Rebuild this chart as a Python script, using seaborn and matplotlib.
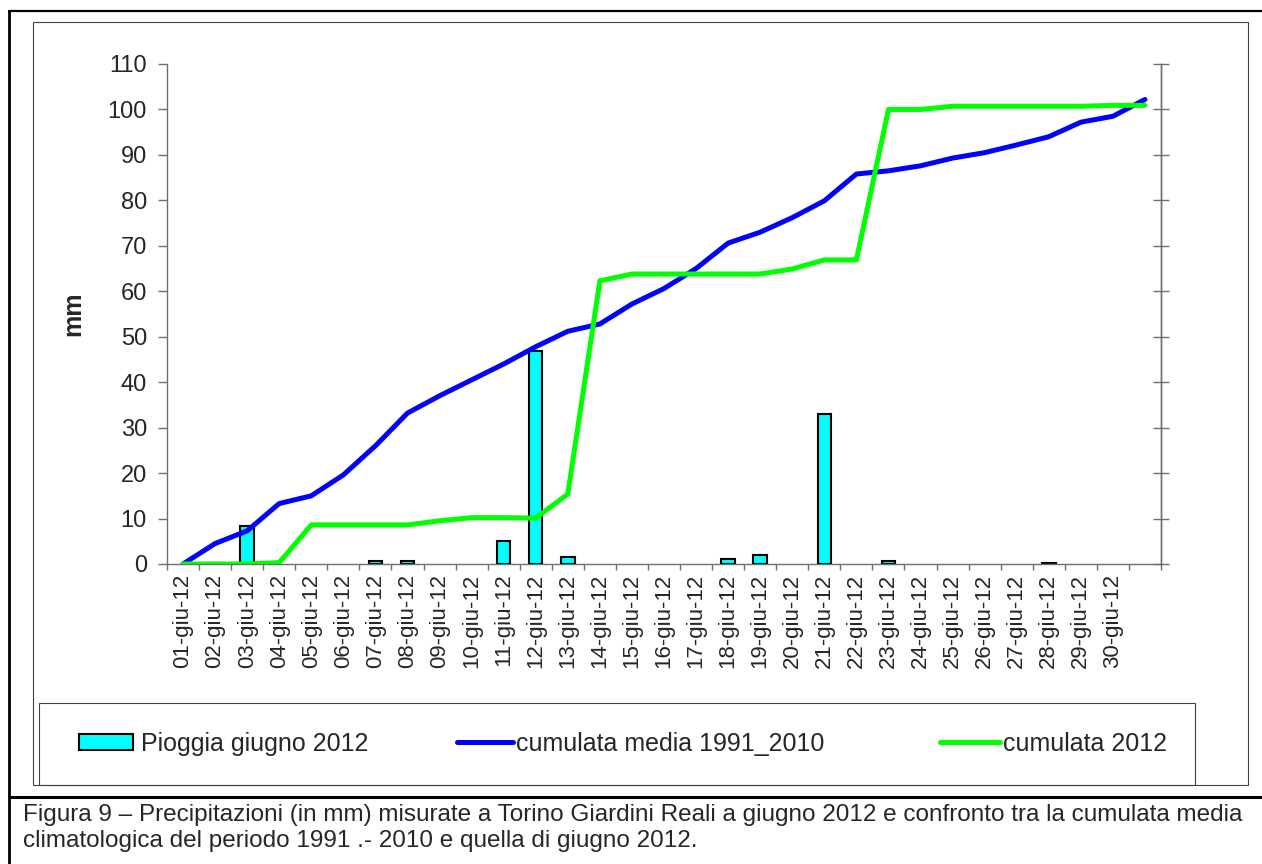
import numpy as np
import pandas as pd
import matplotlib
matplotlib.use('Agg')
import matplotlib.pyplot as plt
import seaborn as sns
from matplotlib.patches import Rectangle, Patch
from matplotlib.lines import Line2D

# dati (mm)
giorni = ['01-giu-12', '02-giu-12', '03-giu-12', '04-giu-12', '05-giu-12', '06-giu-12',
          '07-giu-12', '08-giu-12', '09-giu-12', '10-giu-12', '11-giu-12', '12-giu-12',
          '13-giu-12', '14-giu-12', '15-giu-12', '16-giu-12', '17-giu-12', '18-giu-12',
          '19-giu-12', '20-giu-12', '21-giu-12', '22-giu-12', '23-giu-12', '24-giu-12',
          '25-giu-12', '26-giu-12', '27-giu-12', '28-giu-12', '29-giu-12', '30-giu-12', '']
pioggia = [np.nan, np.nan, 8.4, np.nan, np.nan, np.nan, 0.7, 0.7, np.nan, np.nan, 5.1, 46.9,
           1.5, np.nan, np.nan, np.nan, np.nan, 1.0, 2.0, np.nan, 33.1, np.nan, 0.6, np.nan,
           np.nan, np.nan, np.nan, 0.3, np.nan, np.nan, np.nan]
media_1991_2010 = [0, 4.5, 7.3, 13.3, 15.0, 19.6, 26.0, 33.2, 37.0, 40.5, 44.0, 47.8, 51.2,
                   52.8, 57.2, 60.6, 65.0, 70.6, 73.0, 76.2, 79.9, 85.8, 86.5, 87.6, 89.3,
                   90.5, 92.2, 94.0, 97.2, 98.5, 102.2]
cumulata_2012 = [0, 0, 0, 0.3, 8.6, 8.6, 8.6, 8.6, 9.5, 10.2, 10.2, 10.1, 15.4, 62.3, 63.8,
                 63.8, 63.8, 63.8, 63.8, 64.9, 66.9, 66.9, 100.0, 100.0, 100.7, 100.7, 100.7,
                 100.7, 100.7, 100.9, 100.9]

W, H = 1262, 864
GRIGIO = '#6e6e6e'


def fx(px):
    return px / W


def fy(py):
    return 1 - py / H


sns.set_style('white')
plt.rcParams['font.family'] = ['Liberation Sans', 'DejaVu Sans']

df = pd.DataFrame({'giorno': giorni, 'pioggia': pioggia,
                   'media': media_1991_2010, 'cum': cumulata_2012})
df['pos'] = np.arange(len(df))

fig = plt.figure(figsize=(W / 100, H / 100), dpi=100)
fig.patch.set_facecolor('white')
ax = fig.add_axes([fx(167), fy(564), fx(1161) - fx(167), fy(64) - fy(564)])

sns.barplot(data=df, x='giorno', y='pioggia', order=giorni, color='#00FFFF', saturation=1,
            width=0.42, edgecolor='black', linewidth=1.5, ax=ax, zorder=2)
sns.lineplot(data=df, x='pos', y='media', color='#0000FF', lw=3.6, ax=ax, zorder=3,
             legend=False)
sns.lineplot(data=df, x='pos', y='cum', color='#00FF00', lw=3.6, ax=ax, zorder=4,
             legend=False)

ax.set_xlim(-0.5, 30.5)
ax.set_ylim(0, 110)
ax.set_yticks(range(0, 111, 10))
ax.set_xticks(range(len(giorni)))
ax.set_xticklabels(giorni, rotation=90, fontsize=16)
ax.set_xticks(np.arange(-0.5, 31, 1), minor=True)
ax.tick_params(axis='x', which='major', length=0, pad=7)
ax.tick_params(axis='x', which='minor', bottom=True, direction='out', length=4.3,
               width=1, color=GRIGIO)
ax.tick_params(axis='y', left=True, direction='out', length=6.5, width=1, color=GRIGIO,
               labelsize=17, pad=8)
ax.set_xlabel('')
ax.set_ylabel('mm', fontsize=18, fontweight='bold', labelpad=16)
ax.spines['top'].set_visible(False)
for s in ['left', 'right', 'bottom']:
    ax.spines[s].set_color(GRIGIO)
    ax.spines[s].set_linewidth(1)

# asse secondario a destra, solo tacche
ax2 = ax.twinx()
ax2.set_ylim(0, 110)
ax2.set_yticks(range(0, 111, 10))
ax2.tick_params(axis='y', right=True, direction='inout', length=11.5, width=1,
                color=GRIGIO, labelright=False)
ax2.patch.set_visible(False)
for s in ['left', 'top', 'bottom']:
    ax2.spines[s].set_visible(False)
ax2.spines['right'].set_color(GRIGIO)
ax2.spines['right'].set_linewidth(1)

# cornici
fig.add_artist(Rectangle((fx(33), fy(785)), fx(1248) - fx(33), fy(22) - fy(785),
                         transform=fig.transFigure, fill=False, edgecolor='#404040', lw=0.8))
fig.add_artist(Rectangle((fx(39), fy(785)), fx(1195) - fx(39), fy(703) - fy(785),
                         transform=fig.transFigure, fill=False, edgecolor='#404040', lw=0.8))
fig.add_artist(Line2D([fx(9), 1], [fy(11), fy(11)], transform=fig.transFigure,
                      color='black', lw=1.6))
fig.add_artist(Line2D([fx(9), fx(9)], [fy(11), 0], transform=fig.transFigure,
                      color='black', lw=2.0))
fig.add_artist(Line2D([fx(9), 1], [fy(797), fy(797)], transform=fig.transFigure,
                      color='black', lw=2.2))

# legenda
voci = [
    (Patch(facecolor='#00FFFF', edgecolor='black', linewidth=1.5), 'Pioggia giugno 2012', 79, 2.15, 0.33),
    (Line2D([], [], color='#0000FF', lw=3.6), 'cumulata media 1991_2010', 457, 2.25, 0.12),
    (Line2D([], [], color='#00FF00', lw=3.6), 'cumulata 2012', 940, 2.4, 0.12),
]
for h, lab, x0, hl, tp in voci:
    fig.legend(handles=[h], labels=[lab], loc='center left', bbox_to_anchor=(fx(x0), fy(744)),
               frameon=False, fontsize=18, handlelength=hl, handleheight=0.64,
               handletextpad=tp, borderpad=0, borderaxespad=0)

# didascalia
fig.text(fx(23), fy(821), 'Figura 9 \u2013 Precipitazioni (in mm) misurate a Torino Giardini Reali '
         'a giugno 2012 e confronto tra la cumulata media', fontsize=17.5, va='baseline')
fig.text(fx(23), fy(847), 'climatologica del periodo 1991 .- 2010 e quella di giugno 2012.',
         fontsize=17.5, va='baseline')

fig.savefig('out.png', dpi=100, facecolor='white')
